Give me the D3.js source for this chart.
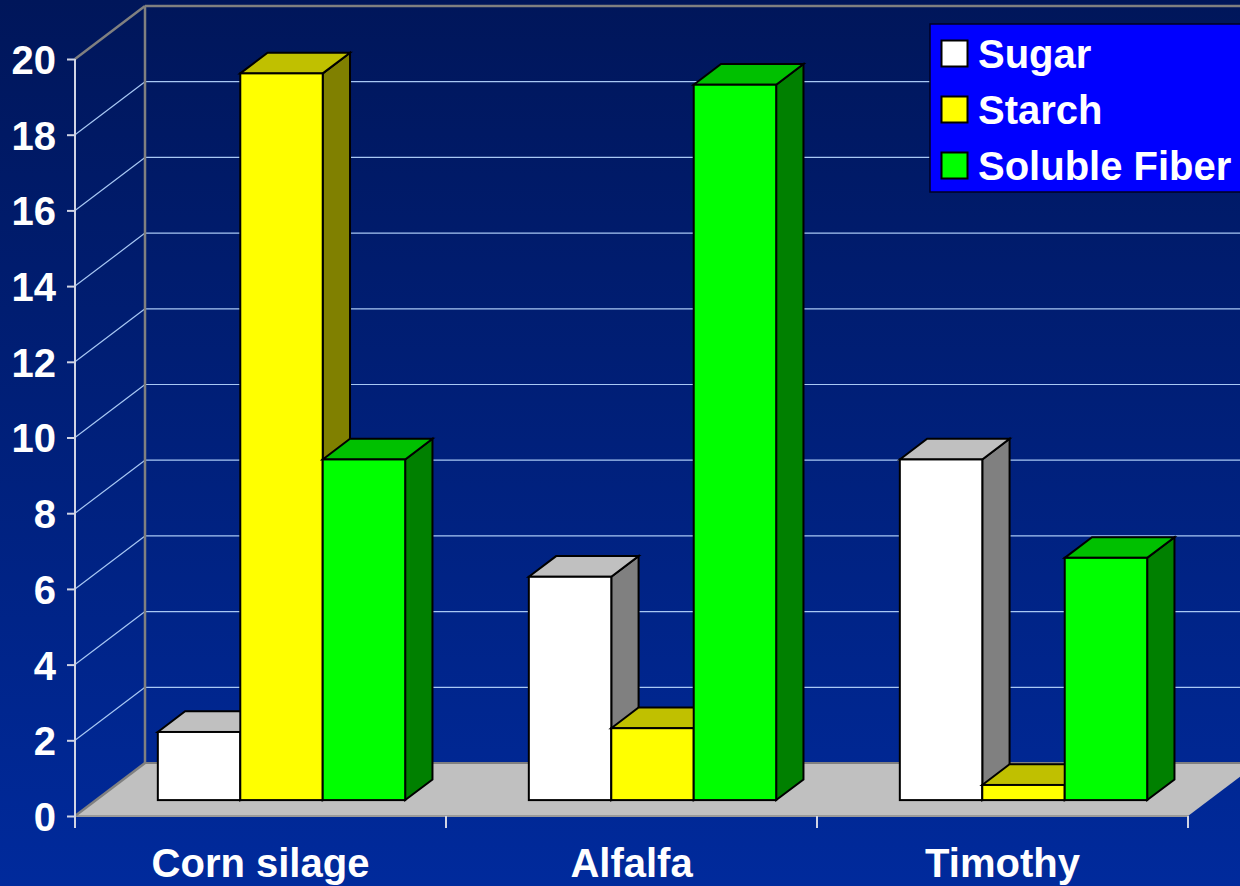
<!DOCTYPE html>
<html>
<head>
<meta charset="utf-8">
<script src="https://cdn.jsdelivr.net/npm/d3@7"></script>
<style>
  html, body { margin: 0; padding: 0; background: #001b66; }
  svg { display: block; }
  text { font-family: "Liberation Sans", Arial, sans-serif; font-weight: bold; fill: #ffffff; }
</style>
</head>
<body>
<svg id="chart" width="1240" height="886"></svg>
<script>
// Carbohydrate fractions by forage (% of dry matter)
const categories = ["Corn silage", "Alfalfa", "Timothy"];
const series = ["Sugar", "Starch", "Soluble Fiber"];
const sugar = [1.8, 5.9, 9.0];
const starch = [19.2, 1.9, 0.4];
const solubleFiber = [9.0, 18.9, 6.4];
const yTicks = [0, 2, 4, 6, 8, 10, 12, 14, 16, 18, 20];

const values = [sugar, starch, solubleFiber];
const faceColors = {
  "Sugar":         { front: "#ffffff", top: "#c0c0c0", side: "#808080" },
  "Starch":        { front: "#ffff00", top: "#c0c000", side: "#808000" },
  "Soluble Fiber": { front: "#00ff00", top: "#00c000", side: "#008000" }
};

const W = 1240, H = 886;
const svg = d3.select("#chart");

// background gradient
const defs = svg.append("defs");
const grad = defs.append("linearGradient").attr("id", "bg")
  .attr("x1", 0).attr("y1", 0).attr("x2", 0).attr("y2", 1);
grad.append("stop").attr("offset", "0%").attr("stop-color", "#00165a");
grad.append("stop").attr("offset", "100%").attr("stop-color", "#002a9c");
svg.append("rect").attr("width", W).attr("height", H).attr("fill", "url(#bg)");

// front plane scales and depth vector of the 3D box
const x = d3.scaleBand().domain(categories).range([75, 1188]).padding(0);
const y = d3.scaleLinear().domain([0, 20]).range([816, 59]);
const depth = { dx: 70, dy: -53 };
const barDepth0 = 0.30, barDepth1 = 0.69;

const bw = x.bandwidth();
const xs = d3.scaleBand().domain(series).range([bw / 6, bw * 5 / 6]).padding(0);

const line = (pts) => "M" + pts.map(p => p.join(",")).join("L") + "Z";

// floor
const x0 = x.range()[0], x1 = x.range()[1];
const yb = y(0);
svg.append("path")
  .attr("d", line([[x0, yb], [x1, yb], [x1 + depth.dx, yb + depth.dy], [x0 + depth.dx, yb + depth.dy]]))
  .attr("fill", "#c0c0c0");
svg.append("line")
  .attr("x1", x0).attr("y1", yb).attr("x2", x1).attr("y2", yb)
  .attr("stroke", "#9a9a9a").attr("stroke-width", 2);
svg.append("line")
  .attr("x1", x0 + depth.dx).attr("y1", yb + depth.dy).attr("x2", W + 20).attr("y2", yb + depth.dy)
  .attr("stroke", "#808080").attr("stroke-width", 2);

// back wall gridlines
const grid = svg.append("g");
yTicks.filter(t => t > 0 && t < 20).forEach(t => {
  grid.append("line")
    .attr("x1", x0 + depth.dx).attr("x2", W + 20)
    .attr("y1", y(t) + depth.dy).attr("y2", y(t) + depth.dy)
    .attr("stroke", "#a8c8f4").attr("stroke-width", 1.2);
  grid.append("line")
    .attr("x1", x0).attr("y1", y(t))
    .attr("x2", x0 + depth.dx).attr("y2", y(t) + depth.dy)
    .attr("stroke", "#a8c8f4").attr("stroke-width", 1.2);
});

// wall edges
const edge = svg.append("g").attr("stroke", "#808080").attr("stroke-width", 2.5).attr("fill", "none");
edge.append("line").attr("x1", x0 + depth.dx).attr("x2", W + 20)
  .attr("y1", y(20) + depth.dy).attr("y2", y(20) + depth.dy);
edge.append("line").attr("x1", x0 + depth.dx).attr("x2", x0 + depth.dx)
  .attr("y1", y(20) + depth.dy).attr("y2", y(0) + depth.dy);
edge.append("line").attr("x1", x0).attr("y1", y(20))
  .attr("x2", x0 + depth.dx).attr("y2", y(20) + depth.dy);
edge.append("line").attr("x1", x0).attr("y1", y(0))
  .attr("x2", x0 + depth.dx).attr("y2", y(0) + depth.dy);

// front value axis
const yAxis = d3.axisLeft(y).tickValues(yTicks).tickSize(8).tickPadding(10).tickFormat(d3.format("d"));
const ya = svg.append("g").attr("transform", `translate(${x0},0)`).call(yAxis);
ya.select(".domain").remove();
ya.selectAll(".tick line").attr("stroke", "#d0d4e4").attr("stroke-width", 2);
ya.selectAll(".tick text").attr("font-size", 40).attr("fill", "#ffffff")
  .attr("font-family", "'Liberation Sans', Arial, sans-serif").attr("font-weight", "bold")
  .attr("dy", "0.36em").attr("x", -19);
svg.append("line").attr("x1", x0).attr("x2", x0).attr("y1", y(20)).attr("y2", y(0) + 12)
  .attr("stroke", "#d0d4e4").attr("stroke-width", 2);

// category axis
const xAxis = d3.axisBottom(x).tickSize(0).tickPadding(0);
const xa = svg.append("g").attr("transform", `translate(0,${yb})`).call(xAxis);
xa.select(".domain").remove();
xa.selectAll(".tick text").attr("font-size", 40).attr("fill", "#ffffff")
  .attr("font-family", "'Liberation Sans', Arial, sans-serif").attr("font-weight", "bold")
  .attr("y", 61).attr("dy", 0);
const bounds = [...categories.map(c => x(c)), x1];
svg.append("g").selectAll("line").data(bounds).join("line")
  .attr("x1", d => d).attr("x2", d => d).attr("y1", yb).attr("y2", yb + 12)
  .attr("stroke", "#d0d4e4").attr("stroke-width", 2);

// 3D bars
const ox = barDepth0 * depth.dx, oy = barDepth0 * depth.dy;
const bdx = (barDepth1 - barDepth0) * depth.dx, bdy = (barDepth1 - barDepth0) * depth.dy;
const bars = svg.append("g").attr("stroke", "#000").attr("stroke-width", 2).attr("stroke-linejoin", "miter");
categories.forEach((cat, ci) => {
  series.forEach((s, si) => {
    const v = values[si][ci];
    const l = x(cat) + xs(s) + ox;
    const r = l + xs.bandwidth();
    const top = y(v) + oy, bot = y(0) + oy;
    const c = faceColors[s];
    const g = bars.append("g");
    g.append("path").attr("fill", c.side)
      .attr("d", line([[r, top], [r + bdx, top + bdy], [r + bdx, bot + bdy], [r, bot]]));
    g.append("path").attr("fill", c.top)
      .attr("d", line([[l, top], [l + bdx, top + bdy], [r + bdx, top + bdy], [r, top]]));
    g.append("rect").attr("fill", c.front)
      .attr("x", l).attr("y", top).attr("width", r - l).attr("height", bot - top);
  });
});

// legend
const lg = svg.append("g").attr("transform", "translate(930,24)");
lg.append("rect").attr("width", 330).attr("height", 168)
  .attr("fill", "#0000ff").attr("stroke", "#000022").attr("stroke-width", 1.5);
series.forEach((s, i) => {
  const row = lg.append("g").attr("transform", `translate(0,${30 + i * 56})`);
  row.append("rect").attr("x", 11.5).attr("y", -13.5).attr("width", 26).attr("height", 26)
    .attr("fill", faceColors[s].front).attr("stroke", "#000").attr("stroke-width", 2);
  row.append("text").attr("x", 48).attr("y", 14).attr("font-size", 40).text(s);
});
</script>
</body>
</html>
